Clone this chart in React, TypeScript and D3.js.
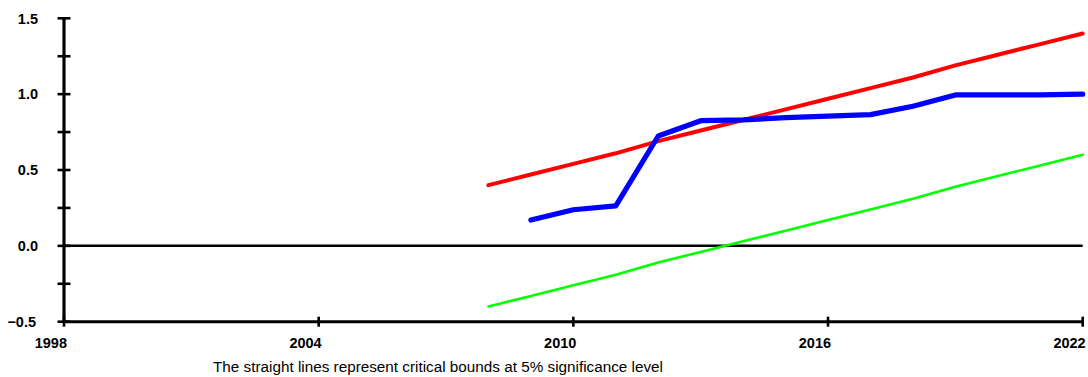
import React from "react";
import * as d3 from "d3";

// Recursive residual CUSUM with its 5% critical bounds
const cusumYears = [2009, 2010, 2011, 2012, 2013, 2014, 2015, 2016, 2017, 2018, 2019, 2020, 2021, 2022];
const cusumValues = [0.17, 0.238, 0.263, 0.724, 0.825, 0.83, 0.845, 0.855, 0.865, 0.92, 0.995, 0.995, 0.995, 1.0];

const boundYears = [2008, 2009, 2010, 2011, 2012, 2013, 2014, 2015, 2016, 2017, 2018, 2019, 2020, 2021, 2022];
const upperBound = [0.4, 0.47, 0.54, 0.61, 0.69, 0.76, 0.83, 0.9, 0.97, 1.04, 1.11, 1.19, 1.26, 1.33, 1.4];
const lowerBound = [-0.4, -0.33, -0.26, -0.19, -0.11, -0.04, 0.03, 0.1, 0.17, 0.24, 0.31, 0.39, 0.46, 0.53, 0.6];

const xTicks = [1998, 2004, 2010, 2016, 2022];
const yMajorTicks = [-0.5, 0, 0.5, 1.0, 1.5];
const yMinorTicks = [-0.5, -0.25, 0, 0.25, 0.5, 0.75, 1.0, 1.25, 1.5];

const caption = "The straight lines represent critical bounds at 5% significance level";

const W = 1088;
const H = 377;
const left = 64;
const right = 1082.7;
const top = 18.3;
const bottom = 321.7;

export default function App() {
  const x = d3.scaleLinear().domain([1998, 2022]).range([left, right]);
  const y = d3.scaleLinear().domain([-0.5, 1.5]).range([bottom, top]);

  const line = d3
    .line<[number, number]>()
    .x((d) => x(d[0]))
    .y((d) => y(d[1]));

  const cusumPath = line(cusumYears.map((yr, i) => [yr, cusumValues[i]]));
  const upperPath = line(boundYears.map((yr, i) => [yr, upperBound[i]]));
  const lowerPath = line(boundYears.map((yr, i) => [yr, lowerBound[i]]));

  const font = "'Liberation Sans', Arial, sans-serif";

  return (
    <svg
      width={W}
      height={H}
      style={{ position: "absolute", left: 0, top: 0, background: "#fff" }}
    >
      <rect width={W} height={H} fill="#fff" />

      {/* zero reference line */}
      <line x1={x(1998)} x2={x(2022)} y1={y(0)} y2={y(0)} stroke="#000" strokeWidth={2.5} />

      {/* series */}
      <path d={lowerPath ?? ""} fill="none" stroke="#00ff00" strokeWidth={2.6} strokeLinecap="round" strokeLinejoin="round" />
      <path d={upperPath ?? ""} fill="none" stroke="#ff0000" strokeWidth={4} strokeLinecap="round" strokeLinejoin="round" />
      <path d={cusumPath ?? ""} fill="none" stroke="#0000ff" strokeWidth={5.2} strokeLinecap="round" strokeLinejoin="round" />

      {/* y axis */}
      <line x1={left} x2={left} y1={top} y2={bottom} stroke="#000" strokeWidth={3.2} />
      {yMinorTicks.map((t) => (
        <line key={"yt" + t} x1={left - 6.5} x2={left + 6.5} y1={y(t)} y2={y(t)} stroke="#000" strokeWidth={2.6} />
      ))}
      {yMajorTicks.map((t) => (
        <text
          key={"yl" + t}
          x={t < 0 ? 36 : 38}
          y={y(t) + 1.5}
          textAnchor="end"
          dominantBaseline="middle"
          fontFamily={font}
          fontWeight="bold"
          fontSize={14.5}
          fill="#000"
        >
          {d3.format(".1f")(t)}
        </text>
      ))}

      {/* x axis */}
      <line x1={left} x2={right} y1={bottom} y2={bottom} stroke="#000" strokeWidth={3} />
      {xTicks.map((t) => (
        <line key={"xt" + t} x1={x(t)} x2={x(t)} y1={bottom - 5} y2={bottom + 5} stroke="#000" strokeWidth={2.6} />
      ))}
      {xTicks.map((t) => (
        <text
          key={"xl" + t}
          x={x(t) + 3}
          y={347.5}
          textAnchor="end"
          fontFamily={font}
          fontWeight="bold"
          fontSize={14.5}
          fill="#000"
        >
          {t}
        </text>
      ))}

      <text
        x={213}
        y={371.5}
        fontFamily={font}
        fontSize={14}
        fill="#000"
        textLength={450}
        lengthAdjust="spacingAndGlyphs"
      >
        {caption}
      </text>
    </svg>
  );
}
